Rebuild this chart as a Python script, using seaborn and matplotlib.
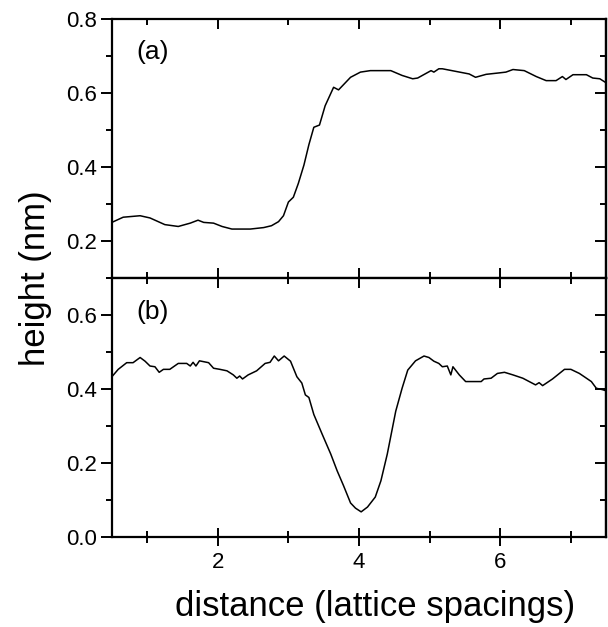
import numpy as np
import pandas as pd
import matplotlib
matplotlib.use("Agg")
import matplotlib.pyplot as plt
from matplotlib.ticker import MultipleLocator, NullFormatter
import seaborn as sns

# profile (a): step edge
x_a = [0.50, 0.66, 0.90, 1.04, 1.25, 1.44, 1.61, 1.72, 1.80, 1.94, 2.06, 2.20,
       2.46, 2.65, 2.76, 2.86, 2.93, 3.00, 3.07, 3.14, 3.22, 3.29, 3.36, 3.44,
       3.52, 3.64, 3.71, 3.88, 4.02, 4.16, 4.45, 4.61, 4.76, 4.83, 5.02, 5.06,
       5.13, 5.18, 5.37, 5.56, 5.65, 5.80, 5.99, 6.08, 6.18, 6.34, 6.51, 6.65,
       6.79, 6.88, 6.93, 7.03, 7.22, 7.31, 7.41, 7.50]
h_a = [0.250, 0.264, 0.268, 0.262, 0.244, 0.239, 0.248, 0.256, 0.250, 0.248, 0.239, 0.232,
       0.232, 0.236, 0.241, 0.252, 0.268, 0.305, 0.318, 0.355, 0.405, 0.460, 0.507, 0.513,
       0.565, 0.615, 0.608, 0.642, 0.656, 0.660, 0.660, 0.647, 0.638, 0.640, 0.660, 0.656,
       0.665, 0.665, 0.658, 0.651, 0.642, 0.650, 0.654, 0.656, 0.663, 0.660, 0.644, 0.633,
       0.633, 0.644, 0.636, 0.649, 0.649, 0.640, 0.638, 0.627]

# profile (b): trench
x_b = [0.50, 0.59, 0.71, 0.80, 0.90, 0.97, 1.04, 1.11, 1.17, 1.23, 1.32, 1.44,
       1.56, 1.61, 1.65, 1.69, 1.74, 1.87, 1.94, 2.03, 2.13, 2.22, 2.27, 2.31,
       2.35, 2.43, 2.55, 2.67, 2.74, 2.80, 2.86, 2.94, 3.03, 3.12, 3.19, 3.24,
       3.29, 3.36, 3.48, 3.60, 3.69, 3.78, 3.88, 3.95, 4.03, 4.12, 4.23, 4.31,
       4.40, 4.52, 4.61, 4.69, 4.80, 4.92, 4.99, 5.06, 5.13, 5.18, 5.25, 5.30,
       5.33, 5.42, 5.51, 5.73, 5.77, 5.87, 5.96, 6.06, 6.18, 6.32, 6.41, 6.50,
       6.55, 6.60, 6.74, 6.91, 7.00, 7.12, 7.19, 7.29, 7.36, 7.45, 7.50]
h_b = [0.433, 0.453, 0.471, 0.471, 0.485, 0.475, 0.462, 0.460, 0.445, 0.453, 0.453, 0.469,
       0.469, 0.462, 0.472, 0.462, 0.476, 0.471, 0.456, 0.453, 0.449, 0.438, 0.429, 0.435,
       0.427, 0.438, 0.449, 0.469, 0.472, 0.489, 0.476, 0.489, 0.475, 0.433, 0.416, 0.384,
       0.377, 0.331, 0.277, 0.224, 0.179, 0.139, 0.092, 0.078, 0.068, 0.081, 0.108, 0.152,
       0.224, 0.340, 0.402, 0.451, 0.476, 0.489, 0.485, 0.475, 0.469, 0.460, 0.462, 0.438,
       0.460, 0.438, 0.420, 0.420, 0.427, 0.429, 0.442, 0.445, 0.438, 0.429, 0.420, 0.411,
       0.417, 0.409, 0.427, 0.453, 0.453, 0.442, 0.433, 0.420, 0.402, 0.398, 0.395]

panel_labels = ["(a)", "(b)"]

sns.set_style("ticks")
plt.rcParams['font.family'] = ['Liberation Sans', 'DejaVu Sans']
for k in ['text.color', 'axes.edgecolor', 'axes.labelcolor', 'xtick.color', 'ytick.color']:
    plt.rcParams[k] = 'black'

fig, (ax_a, ax_b) = plt.subplots(2, 1, figsize=(6.08, 6.27), dpi=100, sharex=True)
fig.subplots_adjust(left=0.184, right=0.997, top=0.970, bottom=0.1435, hspace=0)

df_a = pd.DataFrame({'x': x_a, 'h': h_a})
df_b = pd.DataFrame({'x': x_b, 'h': h_b})
sns.lineplot(data=df_a, x='x', y='h', ax=ax_a, color='black', linewidth=1.1)
sns.lineplot(data=df_b, x='x', y='h', ax=ax_b, color='black', linewidth=1.1)

ax_a.set_ylim(0.1, 0.8)
ax_b.set_ylim(0.0, 0.7)
ax_b.set_xlim(0.5, 7.5)


def set_locs(axis, major, minor):
    axis.set_major_locator(MultipleLocator(major))
    axis.set_minor_locator(MultipleLocator(minor))


for ax, lab in zip([ax_a, ax_b], panel_labels):
    ax.set_xlabel('')
    ax.set_ylabel('')
    set_locs(ax.xaxis, 2, 1)
    set_locs(ax.yaxis, 0.2, 0.1)
    # left: ticks point outward
    ax.tick_params(axis='y', which='both', direction='out', right=False,
                   width=1.4, labelsize=16, pad=3)
    ax.tick_params(axis='y', which='major', length=8)
    ax.tick_params(axis='y', which='minor', length=4.5)
    for sp in ax.spines.values():
        sp.set_linewidth(1.6)
        sp.set_visible(True)
    # right: ticks point inward
    sec = ax.secondary_yaxis('right')
    set_locs(sec.yaxis, 0.2, 0.1)
    sec.tick_params(which='both', direction='in', width=1.4, labelright=False)
    sec.tick_params(which='major', length=8)
    sec.tick_params(which='minor', length=4.5)
    sec.yaxis.set_major_formatter(NullFormatter())
    sec.spines['right'].set_linewidth(1.6)
    ax.text(0.05, 0.87, lab, transform=ax.transAxes, fontsize=19, va='center')

# top panel: x ticks inward on both edges
ax_a.tick_params(axis='x', which='both', direction='in', top=True, bottom=True,
                 width=1.4, labelbottom=False)
ax_a.tick_params(axis='x', which='major', length=7.5)
ax_a.tick_params(axis='x', which='minor', length=4.5)

# bottom panel: crossing ticks at the bottom, inward ticks on top
ax_b.tick_params(axis='x', which='both', direction='inout', top=False,
                 width=1.4, labelsize=16, pad=4)
ax_b.tick_params(axis='x', which='major', length=13)
ax_b.tick_params(axis='x', which='minor', length=8)
sec_x = ax_b.secondary_xaxis('top')
set_locs(sec_x.xaxis, 2, 1)
sec_x.tick_params(which='both', direction='in', width=1.4, labeltop=False)
sec_x.tick_params(which='major', length=7.5)
sec_x.tick_params(which='minor', length=4.5)
sec_x.xaxis.set_major_formatter(NullFormatter())

ax_a.set_yticks([0.2, 0.4, 0.6, 0.8])
ax_b.set_yticks([0.0, 0.2, 0.4, 0.6])
ax_b.set_xticks([2, 4, 6])

ax_b.set_xlabel('distance (lattice spacings)', fontsize=25)
ax_b.xaxis.set_label_coords(0.532, -0.205)
fig.text(0.058, 0.556, 'height (nm)', rotation=90, fontsize=25, va='center', ha='center')

plt.savefig('out.png', dpi=100)
